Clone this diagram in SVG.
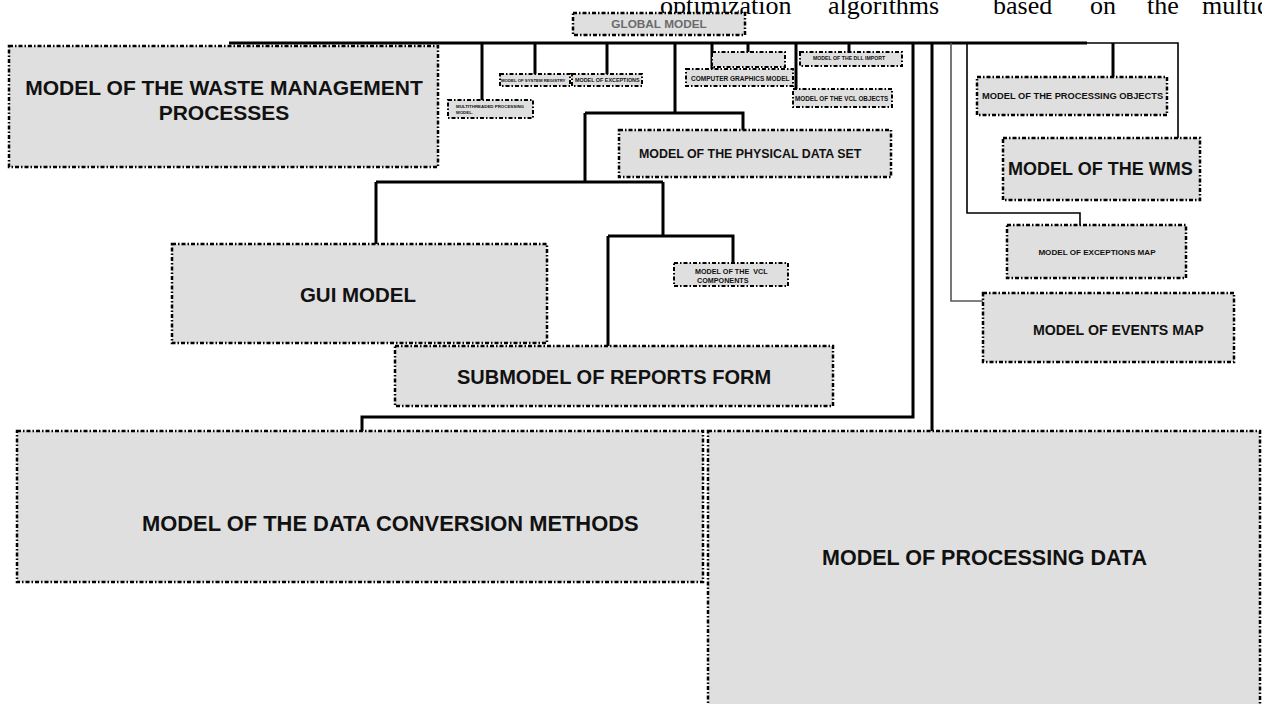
<svg xmlns="http://www.w3.org/2000/svg" width="1262" height="704" viewBox="0 0 1262 704">
<style>
.box{fill:#dfdfdf;stroke:#000;stroke-width:2.5;stroke-dasharray:4 2 1.5 2}
.sb{stroke-width:2}
.t{font-family:"Liberation Sans",Arial,sans-serif;font-weight:bold;fill:#111}
.c{fill:none;stroke:#000;stroke-width:3;stroke-linejoin:miter}
.th{stroke-width:1.6}
.gr{stroke:#555}
.serif{font-family:"Liberation Serif","Times New Roman",serif;font-size:26px;fill:#000}
</style>
<rect width="1262" height="704" fill="#fff"/>
<g id="page-text" class="serif">
<text x="660" y="13.5">optimization</text>
<text x="828" y="13.5">algorithms</text>
<text x="993" y="13.5">based</text>
<text x="1090" y="13.5">on</text>
<text x="1147" y="13.5">the</text>
<text x="1202" y="13.5">multicri</text>
</g>
<g id="connectors">
<path class="c" d="M229 43H1087"/>
<path class="c th" d="M1087 43H1178V138"/>
<path class="c" d="M482 43V100"/>
<path class="c" d="M535 43V74"/>
<path class="c" d="M607 43V74"/>
<path class="c" d="M675 43V113M585 113H743V130"/>
<path class="c" d="M585 113V182M376 182H663M376 182V244"/>
<path class="c" d="M663 182V236M608 236H733V263"/>
<path class="c" d="M608 236V346"/>
<path class="c" d="M712 43V69"/>
<path class="c" d="M748 43V52"/>
<path class="c" d="M796 43V89"/>
<path class="c" d="M849 43V52"/>
<path class="c" d="M913 43V417H362V431"/>
<path class="c" d="M932 43V431"/>
<path class="c th gr" d="M951 43V301H983"/>
<path class="c th" d="M967 43V213H1080V225"/>
<path class="c" d="M1113 43V77"/>
</g>
<g id="global-model">
<rect class="box" x="573" y="13" width="172" height="22"/>
<text class="t" x="659" y="28" font-size="11.8" text-anchor="middle" style="fill:#6a6a6a">GLOBAL MODEL</text>
</g>
<g id="waste-management">
<rect class="box" x="9" y="46" width="429" height="121"/>
<text class="t" x="224" y="95" font-size="21" text-anchor="middle">MODEL OF THE WASTE MANAGEMENT</text>
<text class="t" x="224" y="120" font-size="21" text-anchor="middle">PROCESSES</text>
</g>
<g id="multithreaded">
<rect class="box sb" x="448" y="100" width="85" height="18"/>
<text class="t" x="456" y="107.5" font-size="4.4">MULTITHREADED PROCESSING</text>
<text class="t" x="456" y="114" font-size="4.4">MODEL.</text>
</g>
<g id="system-registry">
<rect class="box sb" x="500" y="74" width="70" height="12"/>
<text class="t" x="501" y="81.5" font-size="4.3">MODEL OF SYSTEM REGISTRY</text>
</g>
<g id="exceptions">
<rect class="box sb" x="572" y="74" width="70" height="12"/>
<text class="t" x="575" y="82" font-size="5.4">MODEL OF EXCEPTIONS</text>
</g>
<g id="unnamed">
<rect class="box sb" x="712" y="52" width="73" height="15"/>
</g>
<g id="computer-graphics">
<rect class="box sb" x="686" y="69" width="107" height="17"/>
<text class="t" x="691" y="80.5" font-size="6.5">COMPUTER GRAPHICS MODEL</text>
</g>
<g id="dll-import">
<rect class="box sb" x="800" y="52" width="102" height="14"/>
<text class="t" x="813" y="59.5" font-size="5.2">MODEL OF THE DLL IMPORT</text>
</g>
<g id="vcl-objects">
<rect class="box sb" x="793" y="89" width="99" height="18"/>
<text class="t" x="795" y="101" font-size="6.3">MODEL OF THE VCL OBJECTS</text>
</g>
<g id="physical-data-set">
<rect class="box" x="619" y="130" width="272" height="47"/>
<text class="t" x="639" y="157.5" font-size="12.4">MODEL OF THE PHYSICAL DATA SET</text>
</g>
<g id="vcl-components">
<rect class="box sb" x="674" y="263" width="114" height="23"/>
<text class="t" x="695" y="274" font-size="7.2" xml:space="preserve">MODEL OF THE  VCL</text>
<text class="t" x="697" y="282.5" font-size="7.2">COMPONENTS</text>
</g>
<g id="gui-model">
<rect class="box" x="172" y="244" width="375" height="99"/>
<text class="t" x="358" y="302" font-size="20.5" text-anchor="middle">GUI MODEL</text>
</g>
<g id="reports-form">
<rect class="box" x="395" y="346" width="438" height="60"/>
<text class="t" x="614" y="384" font-size="20" text-anchor="middle">SUBMODEL OF REPORTS FORM</text>
</g>
<g id="processing-objects">
<rect class="box" x="977" y="77" width="190" height="38"/>
<text class="t" x="982" y="99.3" font-size="9.3">MODEL OF THE PROCESSING OBJECTS</text>
</g>
<g id="wms">
<rect class="box" x="1003" y="138" width="197" height="62"/>
<text class="t" x="1008" y="174.5" font-size="18">MODEL OF THE WMS</text>
</g>
<g id="exceptions-map">
<rect class="box" x="1007" y="225" width="179" height="53"/>
<text class="t" x="1097" y="255" font-size="8.1" text-anchor="middle">MODEL OF EXCEPTIONS MAP</text>
</g>
<g id="events-map">
<rect class="box" x="983" y="293" width="251" height="69"/>
<text class="t" x="1033" y="335" font-size="14.2">MODEL OF EVENTS MAP</text>
</g>
<g id="data-conversion">
<rect class="box" x="17" y="431" width="686" height="151"/>
<text class="t" x="142" y="530.5" font-size="21.9">MODEL OF THE DATA CONVERSION METHODS</text>
</g>
<g id="processing-data">
<rect class="box" x="708" y="431" width="552" height="290"/>
<text class="t" x="822" y="564.5" font-size="21.5">MODEL OF PROCESSING DATA</text>
</g>
</svg>
